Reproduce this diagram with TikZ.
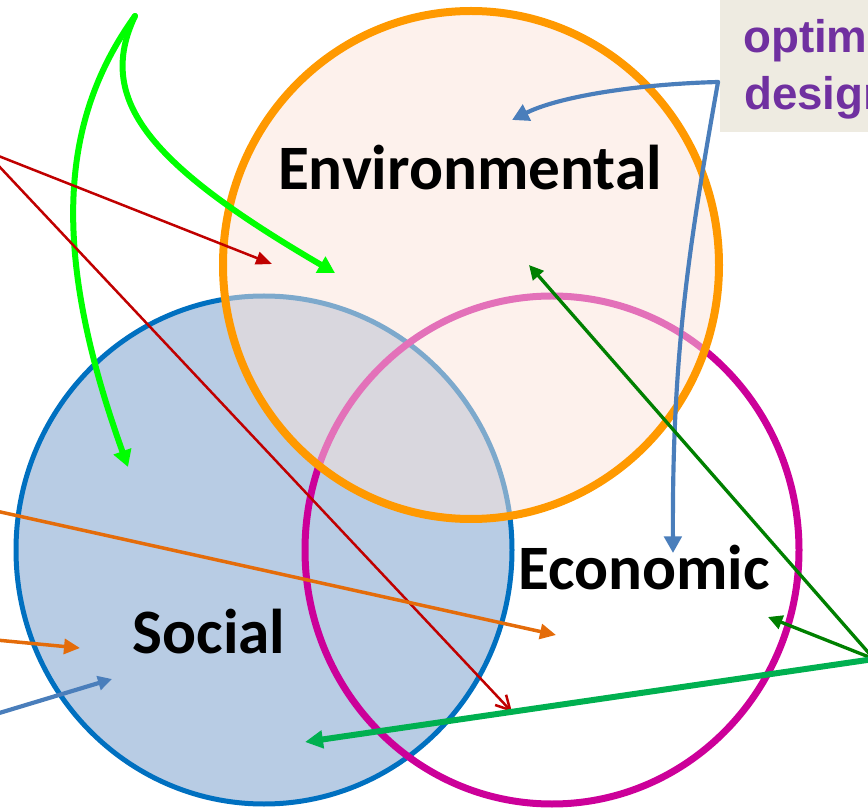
\documentclass[tikz,border=0pt]{standalone}
\usepackage{fontspec}
\setmainfont{Carlito}
\newfontfamily\arialfont{Liberation Sans}
\usetikzlibrary{arrows.meta}

\definecolor{envfill}{RGB}{251,227,217}
\definecolor{envline}{RGB}{255,153,0}
\definecolor{socfill}{RGB}{184,204,228}
\definecolor{socline}{RGB}{0,112,192}
\definecolor{ecoline}{RGB}{204,0,153}
\definecolor{boxfill}{RGB}{238,235,225}
\definecolor{boxtextcol}{RGB}{112,48,160}
\definecolor{limegreen}{RGB}{0,255,0}
\definecolor{darkred}{RGB}{192,0,0}
\definecolor{orangeline}{RGB}{228,108,10}
\definecolor{steelblue}{RGB}{74,126,187}
\definecolor{darkgreen}{RGB}{0,128,0}
\definecolor{midgreen}{RGB}{0,176,80}

\tikzset{
  circlelabel/.style={font=\bfseries\fontsize{54}{60}\selectfont, inner sep=0pt, anchor=base},
  boxtext/.style={font=\arialfont\bfseries\fontsize{39}{47}\selectfont, text=boxtextcol, inner sep=0pt, anchor=base west},
  limearrow/.style={limegreen, line width=1.8mm, -{Triangle[length=5mm,width=5.4mm]}},
  redarrow/.style={darkred, line width=0.75mm},
  orangearrow/.style={orangeline, line width=1.05mm, -{Triangle[length=4.8mm,width=4.5mm]}},
  bluearrow/.style={steelblue, line width=1.25mm, -{Triangle[length=5mm,width=5.2mm]}},
  darkgreenarrow/.style={darkgreen, line width=1mm, -{Triangle[length=4.3mm,width=4.2mm]}},
  midgreenarrow/.style={midgreen, line width=1.8mm, -{Triangle[length=5.4mm,width=5.2mm]}}
}

\begin{document}
\begin{tikzpicture}[x=0.3mm, y=-0.3mm, line cap=round, line join=round]
  \useasboundingbox (0,0) rectangle (868,809);
  \clip (0,0) rectangle (868,809);

  % centres of the three circles
  \coordinate (S) at (264,550);
  \coordinate (E) at (552,550);
  \coordinate (N) at (471,265);

  % Social, Economic, Environmental
  \filldraw[fill=socfill, draw=socline, line width=1.5mm] (S) ellipse [x radius=248, y radius=254];
  \draw[ecoline, line width=2.1mm] (E) ellipse [x radius=247, y radius=254];
  \fill[envfill, fill opacity=0.5] (N) ellipse [x radius=248, y radius=254];
  \draw[envline, line width=2.4mm] (N) ellipse [x radius=248, y radius=254];

  % box at the top right
  \fill[boxfill] (720,0) rectangle (880,132);
  \node[boxtext] (optim) at (743,53) {optimal};
  \node[boxtext] (design) at (744,110) {design};

  % labels
  \node[circlelabel] (envlabel) at (470,190) {Environmental};
  \node[circlelabel] (soclabel) at (209,653) {Social};
  \node[circlelabel] (ecolabel) at (644,589) {Economic};

  % green curves from the top
  \coordinate (greenstart) at (135,16);
  \draw[limearrow] (greenstart) .. controls (60,120) and (50,250) .. (128,467);
  \draw[limearrow] (greenstart) .. controls (95,100) and (150,165) .. (335,273);

  % red lines from the left
  \draw[redarrow, -{Triangle[length=4.8mm,width=3.9mm]}] (-4,155) -- (272,264);
  \draw[redarrow, -{Straight Barb[length=4.2mm,width=4.5mm]}] (-4,163) -- (512,712);

  % orange and blue lines from the left
  \draw[orangearrow] (-4,511) -- (556,635);
  \draw[orangearrow] (-4,640) -- (80,648);
  \draw[bluearrow, -{Triangle[length=4.2mm,width=4.2mm]}] (-4,714) -- (112,679);

  % blue curves from the box
  \coordinate (bluestart) at (718,82);
  \draw[bluearrow] (bluestart) .. controls (640,84) and (560,96) .. (512,120);
  \draw[bluearrow] (bluestart) .. controls (690,240) and (672,350) .. (673,553);

  % green lines from the right
  \coordinate (greensrc) at (874,659);
  \draw[darkgreenarrow] (greensrc) -- (529,265);
  \draw[darkgreenarrow] (greensrc) -- (768,617);
  \draw[midgreenarrow] (greensrc) -- (305,742);
\end{tikzpicture}
\end{document}
